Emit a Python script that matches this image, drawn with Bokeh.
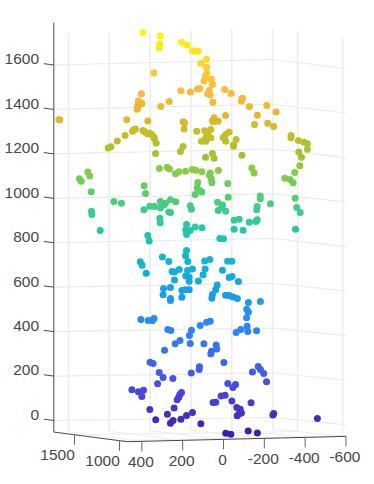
from bokeh.plotting import figure
from bokeh.models import Range1d, ColumnDataSource, LinearColorMapper
from bokeh.core.properties import value
from bokeh.embed import file_html
from bokeh.resources import INLINE
import numpy as np

# (horizontal value along the Y axis, height value)
y_vals = [395,309,312,314,315,206,178,341,402,417,399,420,422,423,307,266,209,807,802,474,371,198,191,193,431,440,446,482,520,552,565,395,386,373,361,350,341,338,330,333,211,198,
152,140,124,83,111,83,82,88,95,60,54,162,127,116,70,78,65,-6,-38,52,-93,-88,-127,-212,-258,-166,-152,-217,-246,-10,46,54,49,26,131,92,62,78,62,87,75,108,87,-28,-11,2,-11,-62,-49,-49,-331,-331,-367,-395,-411,-411,-369,-382,88,54,46,-90,
314,276,265,235,219,186,665,655,706,697,648,389,382,537,500,309,260,284,234,301,292,309,361,338,390,268,260,647,645,604,312,310,371,364,181,185,181,299,268,408,399,379,252,240,217,240,186,181,185,294,260,296,260,260,204,204,186,405,369,348,340,
152,136,106,65,69,25,60,57,126,129,116,106,139,-21,-139,-150,-374,-349,-300,-326,-341,-23,-180,-180,-351,-230,-359,-376,163,157,29,5,26,-11,8,-165,-163,-52,-77,-126,-158,-165,-52,-96,-353,105,139,163,18,0,175,92,67,-20,-41,152,90,5,176,100,123,168,168,-28,-42,-73,31,38,54,57,168,-10,-28,-47,-68,-122,-181,-114,-122,-113,
273,258,167,213,237,289,360,345,315,296,248,323,449,417,392,400,206,214,219,227,361,242,275,332,209,247,260,181,
83,65,114,157,163,96,36,33,59,62,-85,-62,-116,-119,-162,-2,118,119,158,-170,-181,-197,-142,-211,-21,-59,-46,-8,12,-41,51,38,-135,-65,-82,-88,-77,-67,152,-246,-242,-460,111,-11,-36,-121,-166]
z_vals = [1746,1730,1695,1688,1677,1702,1690,1564,1470,1438,1426,1416,1407,1401,1413,1435,1484,1353,1353,1353,1348,1344,1340,1312,1312,1308,1302,1282,1258,1232,1226,1305,1299,1290,1293,1286,1275,1268,1248,1202,1210,1233,
1664,1662,1662,1626,1608,1590,1563,1548,1528,1536,1512,1478,1492,1494,1485,1470,1466,1490,1472,1432,1450,1438,1413,1418,1388,1374,1332,1338,1323,1372,1362,1350,1344,1347,1302,1304,1310,1290,1272,1272,1275,1257,1257,1298,1287,1274,1257,1264,1234,1240,1282,1272,1260,1252,1245,1221,1208,1185,1185,1202,1180,1194,
1134,1140,1132,1110,1119,1122,1118,1100,1088,1077,1029,1056,1022,986,978,986,993,978,984,975,970,956,964,963,948,938,936,942,927,855,910,890,832,808,882,858,837,736,716,714,699,663,670,668,680,632,741,765,650,594,598,566,549,540,555,585,588,454,450,450,459,
1130,1126,1119,1114,1104,1125,1088,1070,1071,1047,1035,1028,1017,1066,1136,1114,1146,1116,1090,1084,1070,1005,1010,998,1000,975,958,936,966,951,982,970,945,942,957,963,948,901,906,892,895,903,861,856,861,867,871,855,819,818,715,718,724,717,717,682,682,676,675,656,628,645,627,644,648,626,610,588,567,550,588,564,562,556,549,531,535,501,488,462,
410,405,382,360,345,316,262,256,216,194,189,165,138,129,136,108,126,117,105,93,50,56,28,3,6,0,-12,22,
442,447,428,406,346,345,340,322,312,300,410,396,424,400,404,261,242,230,214,243,230,212,218,174,166,162,148,114,110,88,81,82,80,58,51,34,30,21,36,31,25,9,-15,-57,-62,-47,-56]

z_ticks = [0,200,400,600,800,1000,1200,1400,1600]
y_ticks = [400,200,0,-200,-400,-600]
x_ticks = [1500,1000]
z_labels = [str(t) for t in z_ticks]
y_labels = [str(t) for t in y_ticks]
x_labels = [str(t) for t in x_ticks]

palette_anchors = ["#3C1EA8","#4230C4","#4844DC","#4558EE","#3C6AF6","#2F80FF","#2090F8","#14A0EC","#10AEDC",
                   "#10BCC6","#22C6AC","#38CC92","#58CE6C","#84CC48","#A8C230","#C8BE28","#E6B82A","#FFB83A","#FFC82E","#FBE51E","#FFF800"]

# ---- page scale
XS, ZS = 4.9, 4.5      # data units per pixel
W, H = 372, 482
X0, Y0 = 223, 420      # frame pixel of (0, 0)

XMAX, XMIN, YMAX, YMIN, ZMIN, ZTOP = 1730, 915, 472, -600, -52, 1740

def proj(X, Y, Z):
    """3-D axes box -> (pixels relative to the zero point of the chart plane)"""
    tY = (Y - YMIN) / (YMAX - YMIN)
    tX = (XMAX - X) / (XMAX - XMIN)
    sx = -0.2041 * Y + (XMIN - X) * 0.09
    sy = -0.2222 * Z - (1 - tY) * (3 + Z * 0.00156) + tX * (7.3 + Z * 0.00106) + tY * tX * 2.4
    return sx, sy

def D(X, Y, Z, dx=0.0, dy=0.0):
    sx, sy = proj(X, Y, Z)
    return (-(sx + dx) * XS, -(sy + dy) * ZS)

p = figure(width=W, height=H, output_backend="svg", toolbar_location=None,
           x_range=Range1d(X0 * XS, (X0 - W) * XS), y_range=Range1d((Y0 - H) * ZS, Y0 * ZS),
           min_border=0, outline_line_color=None)
p.xaxis.visible = False
p.yaxis.visible = False
p.xgrid.visible = False
p.ygrid.visible = False
p.background_fill_color = "white"
p.border_fill_color = "white"

GRID = "#EAEAEA"
def seg(a, b, color=GRID, w=1.3):
    p.line([a[0], b[0]], [a[1], b[1]], line_color=color, line_width=w)

# walls
WALL_SHIFT = 48
for z in z_ticks:
    a, b, c = D(XMAX, YMAX, z), D(XMAX, YMIN, z), D(XMIN, YMIN, z)
    p.line([a[0], b[0], c[0]], [a[1], b[1], c[1]], line_color=GRID, line_width=1.2)
for y in y_ticks:
    f, t = D(XMAX, y, ZMIN), D(XMAX, y, ZTOP)
    seg(f, t, "#EDEDED", 1.6)
    seg(D(XMIN, y, ZMIN), f, "#EDEDED", 1.0)
for x in x_ticks:
    f, t = D(x - WALL_SHIFT, YMIN, ZMIN), D(x - WALL_SHIFT, YMIN, ZTOP)
    seg(f, t, "#EDEDED", 1.6)
    seg(D(x, YMAX, ZMIN), f, "#EDEDED", 1.0)

# axes
AX = "#4A4A4A"
seg(D(XMAX, YMAX, ZMIN), D(XMAX, YMAX, ZTOP + 50), AX, 1.0)
seg(D(XMAX, YMAX, ZMIN), D(XMIN, YMAX, ZMIN), AX, 1.0)
seg(D(XMIN, YMAX, ZMIN), D(XMIN, YMIN, ZMIN), AX, 1.0)
for z in z_ticks:
    seg(D(XMAX, YMAX, z), D(XMAX, YMAX, z, -10, -1.3), AX, 1.0)
for y in y_ticks:
    a = D(XMIN, y, ZMIN)
    seg(a, (a[0], a[1] - 10 * ZS), "#666666", 1.0)
for x in x_ticks:
    a = D(x, YMAX, ZMIN)
    seg(a, (a[0], a[1] - 10 * ZS), "#666666", 1.0)

# scatter
stops = np.array([[int(c[i:i+2], 16) for i in (1, 3, 5)] for c in palette_anchors], float)
t = np.linspace(0, len(stops) - 1, 256)
pal = ["#%02X%02X%02X" % tuple(int(round(np.interp(v, range(len(stops)), stops[:, k]))) for k in range(3)) for v in t]
mapper = LinearColorMapper(palette=pal, low=-70, high=1750)
src = ColumnDataSource(dict(u=y_vals, z=z_vals))
p.scatter("u", "z", source=src, size=7, marker="circle", line_color=None,
          fill_color={"field": "z", "transform": mapper})

# labels
FONT = value("Liberation Sans")
TXT = "#484848"
def labels(xs, ys, txt, align):
    p.text(xs, ys, text=txt, text_font=FONT, text_font_size="15.5px", text_color=TXT,
           text_align=align, text_baseline="middle")

pts = [D(XMAX, YMAX, z, -14.8, -5.6) for z in z_ticks]
labels([q[0] for q in pts], [q[1] for q in pts], z_labels, "right")
pts = [D(XMIN, y, ZMIN, -1, 20.5) for y in y_ticks]
labels([q[0] for q in pts], [q[1] for q in pts], y_labels, "center")
pts = [D(x, YMAX, ZMIN, -17, 20.5) for x in x_ticks]
labels([q[0] for q in pts], [q[1] for q in pts], x_labels, "center")

open("out.html", "w").write(file_html(p, INLINE))
